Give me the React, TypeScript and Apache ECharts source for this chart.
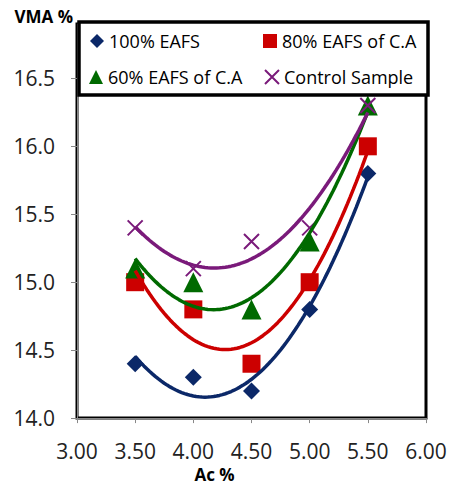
import React, { useEffect, useRef } from 'react';
import * as echarts from 'echarts';

// Asphalt content (Ac %) values for each sample
const acContent = [3.5, 4.0, 4.5, 5.0, 5.5];

// VMA % values per mix
const vma100EAFS = [14.4, 14.3, 14.2, 14.8, 15.8];
const vma80EAFS = [15.0, 14.8, 14.4, 15.0, 16.0];
const vma60EAFS = [15.1, 15.0, 14.8, 15.3, 16.3];
const vmaControl = [15.4, 15.1, 15.3, 15.4, 16.3];

const seriesNames = ['100% EAFS', '80% EAFS of C.A', '60% EAFS of C.A', 'Control Sample'];
const seriesColors = ['#0B2868', '#CC0000', '#006A00', '#7A1A7A'];

const FONT = 'Open Sans';
const CROSS = 'path://M0,0L10,10M10,0L0,10';

// Least-squares quadratic (Excel polynomial order 2 trendline)
function quadFit(xs: number[], ys: number[]) {
  let s0 = 0, s1 = 0, s2 = 0, s3 = 0, s4 = 0, t0 = 0, t1 = 0, t2 = 0;
  xs.forEach((x, i) => {
    const y = ys[i];
    s0 += 1; s1 += x; s2 += x * x; s3 += x * x * x; s4 += x * x * x * x;
    t0 += y; t1 += x * y; t2 += x * x * y;
  });
  const det3 = (m: number[][]) =>
    m[0][0] * (m[1][1] * m[2][2] - m[1][2] * m[2][1]) -
    m[0][1] * (m[1][0] * m[2][2] - m[1][2] * m[2][0]) +
    m[0][2] * (m[1][0] * m[2][1] - m[1][1] * m[2][0]);
  const M = [[s0, s1, s2], [s1, s2, s3], [s2, s3, s4]];
  const T = [t0, t1, t2];
  const D = det3(M);
  const coef = [0, 1, 2].map((k) => {
    const Mk = M.map((row, r) => row.map((v, c) => (c === k ? T[r] : v)));
    return det3(Mk) / D;
  });
  return coef;
}

function trendPoints(xs: number[], ys: number[]) {
  const [a, b, c] = quadFit(xs, ys);
  const x0 = xs[0];
  const x1 = xs[xs.length - 1];
  const n = 80;
  const pts: number[][] = [];
  for (let i = 0; i <= n; i++) {
    const x = x0 + ((x1 - x0) * i) / n;
    pts.push([x, a + b * x + c * x * x]);
  }
  return pts;
}

export default function App() {
  const ref = useRef<HTMLDivElement>(null);

  useEffect(() => {
    document.body.style.margin = '0';
    if (!ref.current) return;
    const chart = echarts.init(ref.current, null, { renderer: 'svg' });

    const groups = [
      { name: seriesNames[0], ys: vma100EAFS, color: seriesColors[0], symbol: 'diamond', size: 17 },
      { name: seriesNames[1], ys: vma80EAFS, color: seriesColors[1], symbol: 'rect', size: 18 },
      { name: seriesNames[2], ys: vma60EAFS, color: seriesColors[2], symbol: 'triangle', size: 20 },
      { name: seriesNames[3], ys: vmaControl, color: seriesColors[3], symbol: CROSS, size: 15 },
    ];

    const series: any[] = [];
    groups.forEach((g) => {
      const isCross = g.symbol === CROSS;
      series.push({
        name: g.name,
        type: 'scatter',
        data: acContent.map((x, i) => [x, g.ys[i]]),
        symbol: g.symbol,
        symbolSize: g.size,
        itemStyle: isCross
          ? { color: g.color, borderColor: g.color, borderWidth: 2, opacity: 1 }
          : { color: g.color, opacity: 1 },
        emphasis: { disabled: true },
        z: 2,
      });
    });
    groups.forEach((g) => {
      series.push({
        name: g.name + ' trend',
        type: 'line',
        data: trendPoints(acContent, g.ys),
        showSymbol: false,
        symbol: 'none',
        smooth: false,
        silent: true,
        lineStyle: { color: g.color, width: 3.5 },
        z: 3,
      });
    });

    const legendPos = [
      { left: 90, top: 32 },
      { left: 263, top: 32 },
      { left: 89, top: 68 },
      { left: 264, top: 68 },
    ];

    chart.setOption({
      animation: false,
      backgroundColor: '#fff',
      grid: {
        left: 77,
        right: 25,
        top: 24,
        bottom: 68,
        show: true,
        borderColor: '#000',
        borderWidth: 3,
        backgroundColor: 'transparent',
      },
      xAxis: {
        type: 'value',
        min: 3,
        max: 6,
        interval: 0.5,
        name: 'Ac %',
        nameLocation: 'middle',
        nameGap: 43,
        nameTextStyle: {
          fontFamily: FONT,
          fontSize: 17,
          fontWeight: 'bold',
          color: '#000',
          padding: [0, 74, 0, 0],
        },
        axisLine: { show: true, lineStyle: { color: '#888', width: 1 } },
        axisTick: { show: true, inside: false, length: 5, lineStyle: { color: '#888' } },
        splitLine: { show: false },
        axisLabel: {
          margin: 22,
          fontFamily: FONT,
          fontSize: 21,
          color: '#222',
          formatter: (v: number) => v.toFixed(2),
        },
      },
      yAxis: {
        type: 'value',
        min: 14,
        max: 16.9,
        interval: 0.5,
        name: 'VMA %',
        nameLocation: 'end',
        nameGap: 7.5,
        nameTextStyle: {
          fontFamily: FONT,
          fontSize: 17,
          fontWeight: 'bold',
          color: '#000',
          align: 'right',
          verticalAlign: 'middle',
          padding: [0, 4, 0, 0],
        },
        axisLine: { show: true, lineStyle: { color: '#888', width: 1 } },
        axisTick: { show: true, inside: false, length: 6, lineStyle: { color: '#888' } },
        splitLine: { show: false },
        axisLabel: {
          margin: 22,
          showMaxLabel: false,
          fontFamily: FONT,
          fontSize: 21,
          color: '#222',
          formatter: (v: number) => (v > 16.6 ? '' : v.toFixed(1)),
        },
      },
      legend: seriesNames.map((n, i) => ({
        data: [n],
        left: legendPos[i].left,
        top: legendPos[i].top,
        padding: 0,
        itemWidth: 14,
        itemHeight: 14,
        itemGap: 0,
        z: 100,
        selectedMode: false,
        textStyle: { fontFamily: FONT, fontSize: 18, color: '#000' },
      })),
      graphic: [
        {
          type: 'rect',
          z: 50,
          shape: { x: 79, y: 22, width: 349, height: 73 },
          style: { fill: '#fff', stroke: '#000', lineWidth: 3.5 },
        },
      ],
      series,
    });

    return () => chart.dispose();
  }, []);

  return <div ref={ref} style={{ width: 451, height: 488 }} />;
}
